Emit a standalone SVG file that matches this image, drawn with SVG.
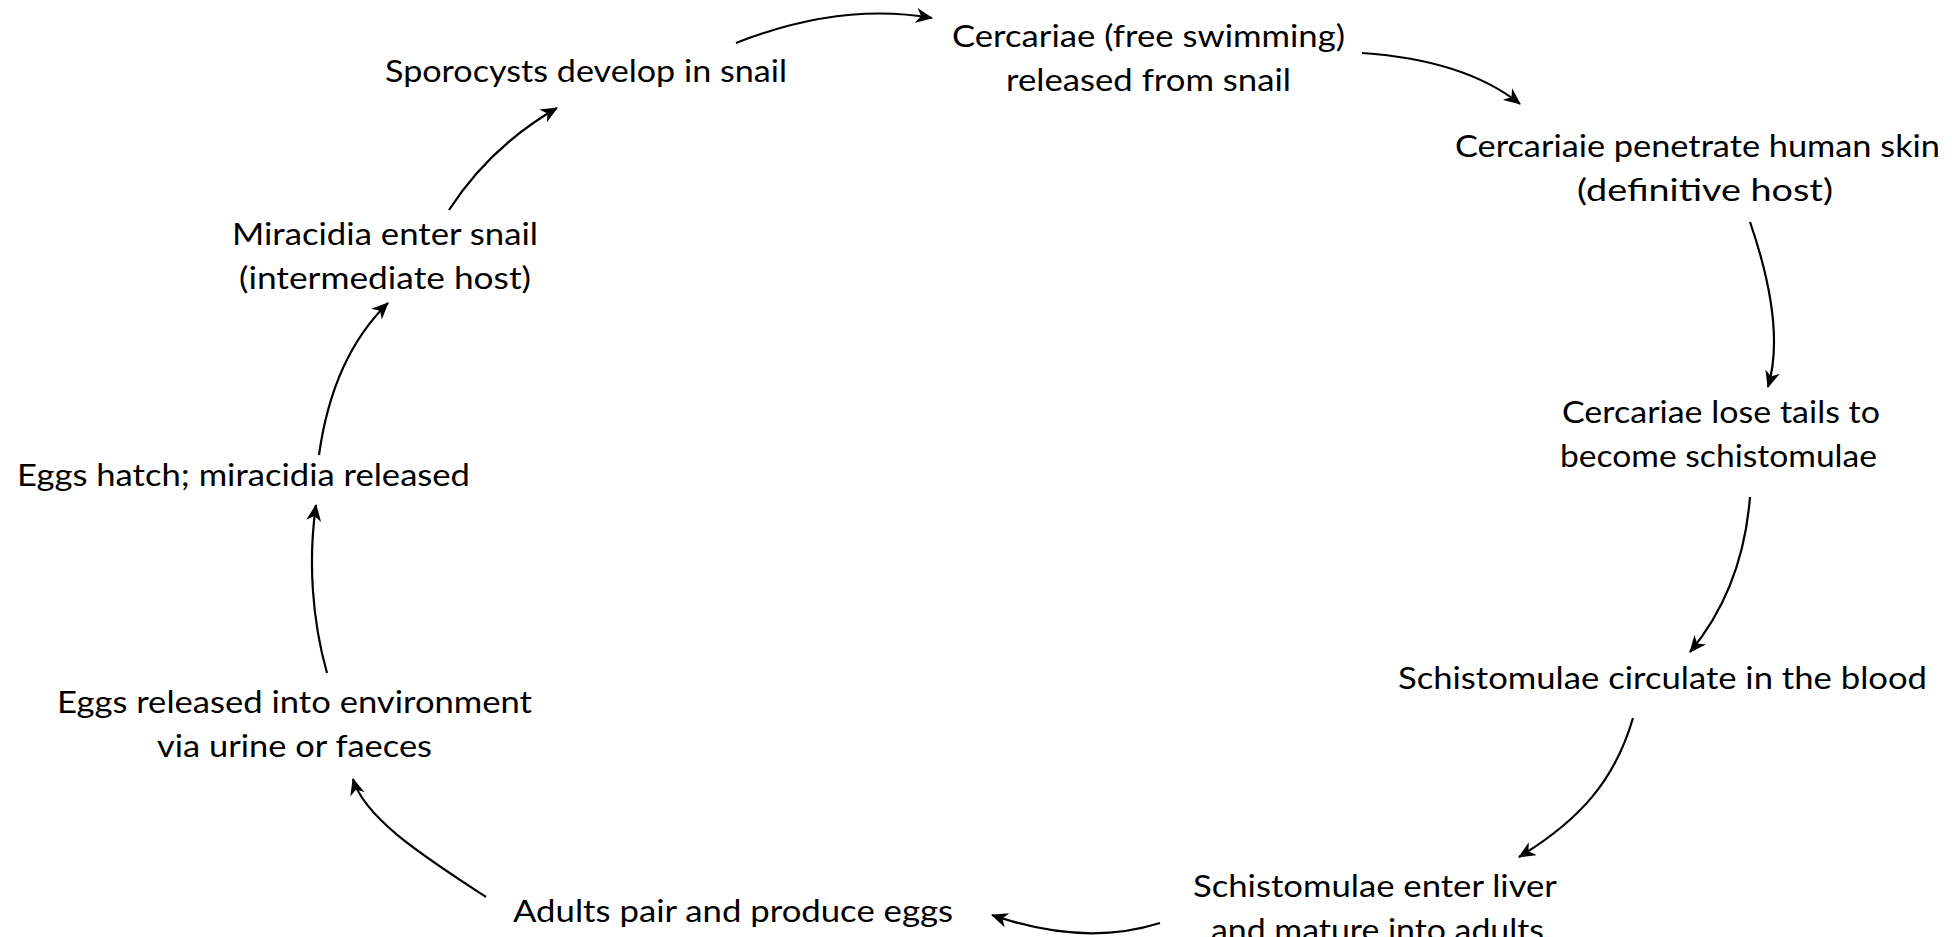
<svg xmlns="http://www.w3.org/2000/svg" width="1952" height="937" viewBox="0 0 1952 937">
<defs>
<marker id="ah" markerUnits="userSpaceOnUse" markerWidth="17" markerHeight="15" viewBox="0 0 17 15" refX="16" refY="7.5" orient="auto">
<path d="M0,0 L17,7.5 L0,15 L5,7.5 z" fill="#000"/>
</marker>
<style>
.t{font-family:Lato,"Liberation Sans",sans-serif;font-size:31px;fill:#000}
.c{fill:none;stroke:#000;stroke-width:2.2;marker-end:url(#ah)}
</style>
</defs>
<rect width="1952" height="937" fill="#fff"/>
<g id="n1"><text class="t" x="385" y="82" textLength="402" lengthAdjust="spacingAndGlyphs">Sporocysts develop in snail</text></g>
<g id="n2"><text class="t" x="952" y="47" textLength="393" lengthAdjust="spacingAndGlyphs">Cercariae (free swimming)</text><text class="t" x="1006" y="91" textLength="285" lengthAdjust="spacingAndGlyphs">released from snail</text></g>
<g id="n3"><text class="t" x="1455" y="157" textLength="485" lengthAdjust="spacingAndGlyphs">Cercariaie penetrate human skin</text><text class="t" x="1577" y="201" textLength="256" lengthAdjust="spacingAndGlyphs">(definitive host)</text></g>
<g id="n4"><text class="t" x="1562" y="423" textLength="318" lengthAdjust="spacingAndGlyphs">Cercariae lose tails to</text><text class="t" x="1560" y="467" textLength="317" lengthAdjust="spacingAndGlyphs">become schistomulae</text></g>
<g id="n5"><text class="t" x="1398" y="689" textLength="529" lengthAdjust="spacingAndGlyphs">Schistomulae circulate in the blood</text></g>
<g id="n6"><text class="t" x="1193" y="897" textLength="364" lengthAdjust="spacingAndGlyphs">Schistomulae enter liver</text><text class="t" x="1211" y="941" textLength="333" lengthAdjust="spacingAndGlyphs">and mature into adults</text></g>
<g id="n7"><text class="t" x="513" y="922" textLength="440" lengthAdjust="spacingAndGlyphs">Adults pair and produce eggs</text></g>
<g id="n8"><text class="t" x="57" y="713" textLength="475" lengthAdjust="spacingAndGlyphs">Eggs released into environment</text><text class="t" x="157" y="757" textLength="275" lengthAdjust="spacingAndGlyphs">via urine or faeces</text></g>
<g id="n9"><text class="t" x="17" y="486" textLength="453" lengthAdjust="spacingAndGlyphs">Eggs hatch; miracidia released</text></g>
<g id="n10"><text class="t" x="232" y="245" textLength="306" lengthAdjust="spacingAndGlyphs">Miracidia enter snail</text><text class="t" x="239" y="289" textLength="292" lengthAdjust="spacingAndGlyphs">(intermediate host)</text></g>
<g id="connectors">
<path class="c" d="M736,43 Q840,2 932,18"/>
<path class="c" d="M1362,53 Q1465,60 1520,104"/>
<path class="c" d="M1750,222 C1770,280 1782,340 1768,387"/>
<path class="c" d="M1750,497 C1745,560 1725,610 1690,652"/>
<path class="c" d="M1633,718 C1615,780 1580,820 1519,857"/>
<path class="c" d="M1160,923 Q1084,947 992,915"/>
<path class="c" d="M486,897 C430,860 365,820 353,779"/>
<path class="c" d="M327,673 C312,620 308,560 316,505"/>
<path class="c" d="M319,455 C328,390 350,340 388,303"/>
<path class="c" d="M449,210 C475,170 510,135 557,108"/>
</g>
</svg>
